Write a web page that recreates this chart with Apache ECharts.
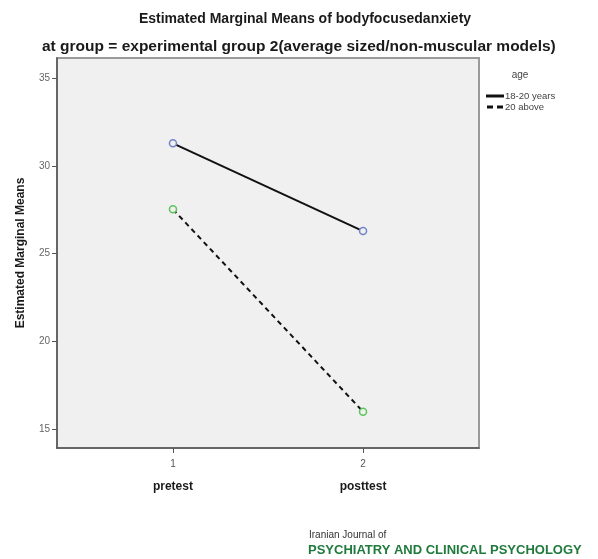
<!DOCTYPE html>
<html>
<head>
<meta charset="utf-8">
<title>Estimated Marginal Means of bodyfocusedanxiety</title>
<script src="https://cdn.jsdelivr.net/npm/echarts@6/dist/echarts.min.js"></script>
<style>
  html, body { margin: 0; padding: 0; background: #ffffff; }
  #chart { width: 598px; height: 559px; }
</style>
</head>
<body>
<div id="chart"></div>
<script>
// Time points (x positions 1 and 2) and their names
const timeTicks = [1, 2];
const timeNames = ['pretest', 'posttest'];
// Estimated marginal means per age group
const groupNames = ['18-20 years', '20 above'];
const means18to20 = [31.28, 26.28];
const means20above = [27.52, 15.99];
// Y-axis tick values
const yTicks = [15, 20, 25, 30, 35];

const FONT = '"Liberation Sans", Arial, sans-serif';

const chart = echarts.init(document.getElementById('chart'), null, { renderer: 'canvas' });

const nameByTick = {};
timeTicks.forEach((t, i) => { nameByTick[t] = timeNames[i]; });

const legendLine = { color: '#111', borderColor: '#111', borderWidth: 0 };

const option = {
  backgroundColor: '#ffffff',
  animation: false,
  title: [
    {
      text: 'Estimated Marginal Means of bodyfocusedanxiety',
      left: 300, top: 7, textAlign: 'center',
      textStyle: { fontFamily: FONT, fontSize: 14, fontWeight: 'bold', color: '#1a1a1a' }
    },
    {
      text: 'at group = experimental group 2(average sized/non-muscular models)',
      left: 37, top: 34,
      textStyle: { fontFamily: FONT, fontSize: 15.5, fontWeight: 'bold', color: '#1a1a1a' }
    },
    {
      text: 'age',
      left: 515, top: 65, textAlign: 'center',
      textStyle: { fontFamily: FONT, fontSize: 10, fontWeight: 'normal', color: '#444' }
    },
    {
      text: 'Iranian Journal of',
      left: 304, top: 525,
      textStyle: { fontFamily: FONT, fontSize: 10, fontWeight: 'normal', color: '#333' }
    },
    {
      text: 'PSYCHIATRY AND CLINICAL PSYCHOLOGY',
      left: 303, top: 539,
      textStyle: { fontFamily: FONT, fontSize: 13, fontWeight: 'bold', color: '#1f7a3c' }
    }
  ],
  legend: {
    orient: 'vertical',
    left: 481, top: 86,
    itemGap: 1,
    itemWidth: 18, itemHeight: 3,
    textStyle: { fontFamily: FONT, fontSize: 9.5, color: '#444', padding: [0, 0, 0, -4] },
    data: [
      { name: groupNames[0], icon: 'rect', itemStyle: legendLine },
      { name: groupNames[1], icon: 'path://M0,0 L6,0 L6,3 L0,3 Z M10,0 L16,0 L16,3 L10,3 Z', itemStyle: legendLine }
    ]
  },
  grid: {
    left: 57, right: 119, top: 58, bottom: 111,
    show: true,
    backgroundColor: '#f0f0f0',
    borderColor: '#9a9a9a',
    borderWidth: 2
  },
  xAxis: {
    type: 'value',
    min: 0.39, max: 2.61,
    splitLine: { show: false },
    axisLine: { show: true, onZero: false, lineStyle: { color: '#555', width: 1.5 } },
    axisTick: { show: true, length: 5, customValues: timeTicks, lineStyle: { color: '#555' } },
    axisLabel: {
      customValues: timeTicks,
      margin: 9,
      formatter: v => '{n|' + v + '}\n{c|' + (nameByTick[v] || '') + '}',
      rich: {
        n: { fontFamily: FONT, fontSize: 10, color: '#555', lineHeight: 14 },
        c: { fontFamily: FONT, fontSize: 12, fontWeight: 'bold', color: '#1a1a1a', lineHeight: 22, verticalAlign: 'bottom', padding: [21, 0, 0, 0] }
      }
    }
  },
  yAxis: {
    type: 'value',
    min: 13.92, max: 36.14,
    name: 'Estimated Marginal Means',
    nameLocation: 'middle',
    nameGap: 30,
    nameTextStyle: { fontFamily: FONT, fontSize: 12, fontWeight: 'bold', color: '#1a1a1a' },
    splitLine: { show: false },
    axisLine: { show: true, onZero: false, lineStyle: { color: '#555', width: 1.5 } },
    axisTick: { show: true, length: 5, customValues: yTicks, lineStyle: { color: '#555' } },
    axisLabel: {
      customValues: yTicks,
      margin: 7,
      fontFamily: FONT, fontSize: 10, color: '#666'
    }
  },
  series: [
    {
      name: groupNames[0],
      type: 'line',
      data: timeTicks.map((t, i) => [t, means18to20[i]]),
      symbol: 'circle', symbolSize: 7,
      itemStyle: { color: '#f0f0f0', borderColor: '#7083c8', borderWidth: 1.5 },
      lineStyle: { color: '#111', width: 2, type: 'solid' },
      z: 3
    },
    {
      name: groupNames[1],
      type: 'line',
      data: timeTicks.map((t, i) => [t, means20above[i]]),
      symbol: 'circle', symbolSize: 7,
      itemStyle: { color: '#f0f0f0', borderColor: '#5cc45c', borderWidth: 1.5 },
      lineStyle: { color: '#111', width: 2, type: [5, 4] },
      z: 3
    }
  ]
};

chart.setOption(option);
</script>
</body>
</html>
